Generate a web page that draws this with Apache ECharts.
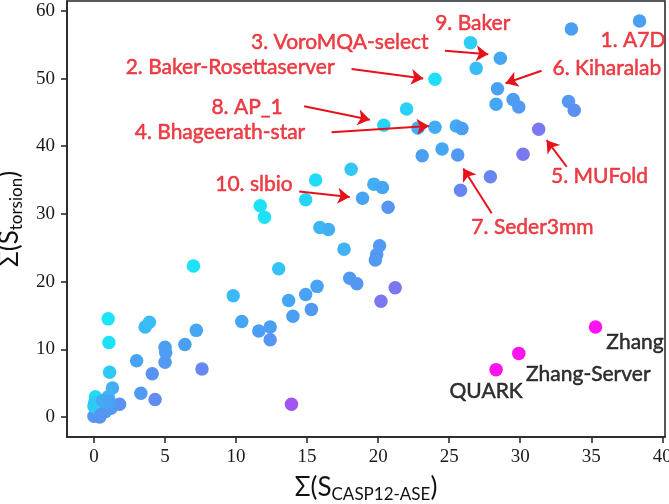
<!DOCTYPE html>
<html><head><meta charset="utf-8">
<script src="https://cdn.jsdelivr.net/npm/echarts@6/dist/echarts.min.js"></script>
<style>html,body{margin:0;padding:0;background:#fff}#c{width:669px;height:504px}</style>
</head><body><div id="c"></div>
<script>
// Σ(S_CASP12-ASE) values
const casp = [38.4,33.6,26.5,28.6,26.9,24.0,28.4,28.3,29.5,29.9,33.4,33.8,22.0,20.4,22.8,24.0,25.5,25.9,31.3,24.5,
  23.1,25.6,30.2,27.9,25.8,18.1,19.7,20.3,18.9,20.7,15.6,14.9,11.7,12.0,15.9,16.5,17.6,20.1,19.9,19.8,
  18.0,18.5,21.2,20.2,7.0,13.0,9.8,14.9,15.7,13.7,14.0,15.3,10.4,11.6,12.4,12.4,7.2,6.4,5.0,5.05,
  5.0,3.0,7.6,4.1,3.3,4.3,13.9,1.0,1.05,3.6,3.9,1.1,1.3,1.8,0.1,0.0,0.4,0.2,0.8,0.3,
  0.8,1.2,0.0,0.05,1.0,0.6,1.1,0.5,35.3,29.9,28.3];
// Σ(S_torsion) values
const torsion = [58.5,57.3,55.3,53.0,51.5,49.9,48.5,46.2,46.9,45.8,46.6,45.3,45.5,43.1,42.7,42.8,43.0,42.6,42.5,39.6,
  38.6,38.7,38.8,35.5,33.5,36.6,34.4,33.9,32.3,31.0,35.0,32.1,31.2,29.5,28.0,27.7,24.8,25.3,24.0,23.2,
  20.5,19.7,19.1,17.1,22.3,21.9,17.9,18.1,19.3,17.2,14.9,15.9,14.1,12.7,13.3,11.4,12.8,10.7,10.3,9.5,
  8.1,8.3,7.1,6.4,3.5,2.6,1.9,14.5,11.0,13.3,14.0,6.6,4.3,1.9,3.0,0.1,0.0,0.8,0.8,1.3,
  1.8,1.3,1.6,2.2,3.0,2.4,2.3,0.4,13.3,9.4,7.0];
// colour tone (0 = cyan … 5 = magenta)
const tone = [2,2,0.8,1.8,1.2,0.3,2,1.8,2,2.2,2.3,2.7,0.7,0.6,1.6,1.7,1.7,2.0,3.3,1.8,
  2.0,2.3,3.3,3.0,3.0,1.0,1.6,1.8,1.9,2.4,0.4,0.6,0.2,0.2,1.4,1.6,1.5,2.2,2.3,2.3,
  2.2,2.4,3.3,3.3,0.2,1.1,1.3,1.9,1.9,1.8,2.0,2.2,1.8,2.0,2.0,2.4,1.8,2.0,2.0,2.1,
  2.3,1.9,2.9,2.5,2.2,2.8,4.0,0.1,0.2,1.3,1.2,0.9,1.6,2.6,0.3,2.3,2.5,2.2,2.0,1.8,
  1.6,2.2,0.8,0.9,1.5,1.7,1.9,2.4,5,5,5];

const xTicks = [0,5,10,15,20,25,30,35,40];
const yTicks = [0,10,20,30,40,50,60];

// annotations (text, anchor in data units)
const annText = ['9. Baker','3. VoroMQA-select','1. A7D','2. Baker-Rosettaserver','6. Kiharalab','8. AP_1',
  '4. Bhageerath-star','10. slbio','5. MUFold','7. Seder3mm','Zhang','Zhang-Server','QUARK'];
const annX = [26.66,17.3,37.94,9.58,36.1,10.77,8.87,11.26,35.58,30.86,38.08,34.79,27.6];
const annY = [58.15,55.3,55.7,51.7,51.5,45.75,42.1,34.4,35.6,27.96,11.12,6.35,3.88];
const annRed = [1,1,1,1,1,1,1,1,1,1,0,0,0];
const arrowFrom = [[24.70,54.1],[18.13,51.4],[31.5,51.15],[14.79,45.9],[16.72,42.05],[33.27,36.97],[27.99,30.1],[14.44,33.3]];
const arrowTo   = [[27.75,53.6],[23.17,50.0],[28.97,49.3],[19.42,43.9],[23.57,43.0],[31.86,40.9],[25.99,36.7],[18.0,32.5]];

const RED = '#e8101a';
const SERIF = '"Liberation Serif","DejaVu Serif",serif';
const chart = echarts.init(document.getElementById('c'), null, {renderer:'canvas'});
chart.setOption({
  animation:false,
  backgroundColor:'#fff',
  grid:{left:67,right:4,top:1,bottom:67,show:true,borderColor:'#222',borderWidth:1.5,
    containLabel:false,outerBoundsMode:'none'},
  visualMap:{show:false,type:'continuous',dimension:2,min:0,max:5,seriesIndex:0,
    inRange:{color:['#18e8f7','#33c6f6','#4a9ff3','#6886f1','#a353f2','#ff12f0']}},
  xAxis:{type:'value',min:-1.9,max:40.19,
    axisLine:{show:true,onZero:false,lineStyle:{color:'#222',width:1.5}},
    axisTick:{show:true,customValues:xTicks,length:6,lineStyle:{color:'#222',width:1.5}},
    axisLabel:{customValues:xTicks,margin:11,fontFamily:SERIF,fontSize:19,color:'#1a1a1a'},
    splitLine:{show:false},
    name:'{a|Σ(S}{b|CASP12-ASE}{a|)}',nameLocation:'middle',nameGap:36,
    nameTextStyle:{rich:{a:{fontFamily:'Lato',fontSize:26,lineHeight:30,color:'#111'},
      b:{fontFamily:'Lato',fontSize:17,lineHeight:17,verticalAlign:'bottom',color:'#111'}}}
  },
  yAxis:{type:'value',min:-2.95,max:61.45,
    axisLine:{show:true,onZero:false,lineStyle:{color:'#222',width:1.5}},
    axisTick:{show:true,customValues:yTicks,length:6,lineStyle:{color:'#222',width:1.5}},
    axisLabel:{customValues:yTicks,margin:12,fontFamily:SERIF,fontSize:19,color:'#1a1a1a'},
    splitLine:{show:false},
    name:'{a|Σ(S}{b|torsion}{a|)}',nameLocation:'middle',nameGap:33,nameRotate:90,
    nameTextStyle:{rich:{a:{fontFamily:'Lato',fontSize:26,lineHeight:30,color:'#111'},
      b:{fontFamily:'Lato',fontSize:17,lineHeight:17,verticalAlign:'bottom',color:'#111'}}}
  },
  series:[
    {type:'scatter',symbolSize:13.5,
     data:casp.map((x,i)=>[x,torsion[i],tone[i]]),
     itemStyle:{opacity:1},emphasis:{disabled:true},silent:true},
    {type:'scatter',symbolSize:0,silent:true,itemStyle:{color:'transparent'},
     data:annText.map((t,i)=>({value:[annX[i],annY[i]],name:t,
       label:{color:annRed[i]?RED:'#000',textBorderColor:annRed[i]?RED:'#000'}})),
     label:{show:true,position:'inside',formatter:p=>p.name,fontFamily:'Lato',fontSize:21,
       textBorderWidth:0.5,textShadowBlur:0},
     markLine:{silent:true,symbol:['none','arrow'],symbolSize:12,precision:3,
       lineStyle:{color:RED,width:2,type:'solid',opacity:1},label:{show:false},emphasis:{disabled:true},
       data:arrowFrom.map((f,i)=>[{coord:f},{coord:arrowTo[i]}])}
    }
  ]
});
</script></body></html>
